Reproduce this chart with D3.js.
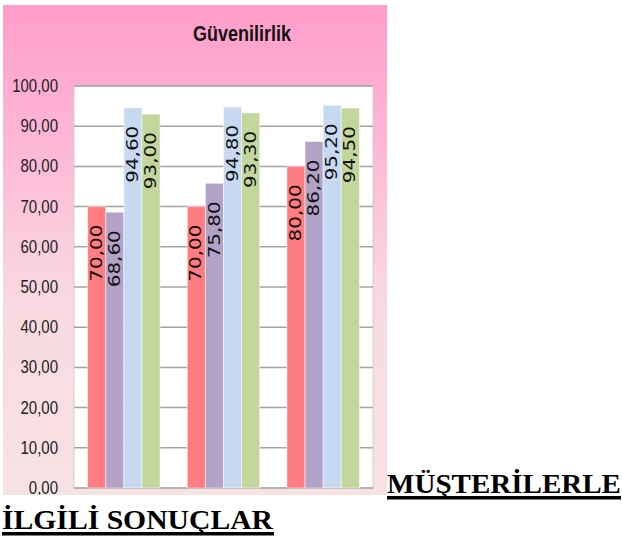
<!DOCTYPE html>
<html>
<head>
<meta charset="utf-8">
<script src="https://cdn.jsdelivr.net/npm/d3@7"></script>
<style>
  body { margin: 0; background: #fff; }
  svg { display: block; }
</style>
</head>
<body>
<svg width="622" height="539"></svg>
<script>
// chart data
const groups = ["A", "B", "C"];
const series = ["s1", "s2", "s3", "s4"];
const colors = ["#ff7c80", "#b3a2c7", "#c6d9f1", "#c3d69b"];
const values = [
  [70.00, 68.60, 94.60, 93.00],
  [70.00, 75.80, 94.80, 93.30],
  [80.00, 86.20, 95.20, 94.50]
];
const yTicks = [0, 10, 20, 30, 40, 50, 60, 70, 80, 90, 100];
const title = "Güvenilirlik";
const caption1 = "MÜŞTERİLERLE";
const caption2 = "İLGİLİ SONUÇLAR";

var svg = d3.select("svg");
var fmt = d => d.toFixed(2).replace(".", ",");

// chart area background
var defs = svg.append("defs");
var grad = defs.append("linearGradient")
    .attr("id", "bg").attr("x1", 0).attr("y1", 0).attr("x2", 0).attr("y2", 1);
grad.append("stop").attr("offset", "0").attr("stop-color", "#ff9dcb");
grad.append("stop").attr("offset", "0.3").attr("stop-color", "#fdb9d6");
grad.append("stop").attr("offset", "0.6").attr("stop-color", "#f9d9e1");
grad.append("stop").attr("offset", "1").attr("stop-color", "#f7e2e2");

defs.append("clipPath").attr("id", "clip")
  .append("rect").attr("x", 3).attr("y", 5).attr("width", 384).attr("height", 490);

var chart = svg.append("g").attr("clip-path", "url(#clip)");

chart.append("rect")
    .attr("x", 3).attr("y", 5).attr("width", 384).attr("height", 490)
    .attr("fill", "url(#bg)");

var pLeft = 74, pRight = 373, pTop = 86, pBottom = 488;

var y = d3.scaleLinear().domain([0, 100]).range([pBottom, pTop]);
var x0 = d3.scaleBand().domain(groups).range([pLeft, pRight]);
var x1 = d3.scaleBand().domain(series).range([0, x0.bandwidth()]).paddingOuter(0.75);

// plot area
chart.append("rect")
    .attr("x", pLeft).attr("y", pTop)
    .attr("width", pRight - pLeft).attr("height", pBottom - pTop)
    .attr("fill", "#fff")
    .attr("stroke", "#d0d0d0");

chart.selectAll(".grid")
  .data(yTicks)
  .join("line")
    .attr("class", "grid")
    .attr("x1", pLeft).attr("x2", pRight)
    .attr("y1", d => y(d)).attr("y2", d => y(d))
    .attr("stroke", "#a3a3a3")
    .attr("stroke-width", 1.5);

// y axis labels
var yAxis = chart.append("g")
    .attr("transform", "translate(" + pLeft + ",0)")
    .call(d3.axisLeft(y).tickValues(yTicks).tickFormat(fmt).tickSize(0).tickPadding(16));
yAxis.select(".domain").remove();
yAxis.selectAll("text")
    .attr("font-family", "Liberation Sans, Arial, sans-serif")
    .attr("font-size", 15)
    .attr("fill", "#222")
    .attr("dy", null)
    .attr("dominant-baseline", "central")
    .attr("transform", "scale(1,1.22)");
yAxis.selectAll(".tick")
    .attr("transform", d => "translate(0," + y(d) + ")");

// bars
var gBars = chart.selectAll(".group")
  .data(values)
  .join("g")
    .attr("class", "group")
    .attr("transform", (d, i) => "translate(" + x0(groups[i]) + ",0)");

gBars.selectAll("rect")
  .data(d => d)
  .join("rect")
    .attr("x", (d, i) => x1(series[i]))
    .attr("y", d => y(d))
    .attr("width", x1.bandwidth())
    .attr("height", d => pBottom - y(d))
    .attr("fill", (d, i) => colors[i])
    .attr("stroke", "rgba(255,255,255,0.5)")
    .attr("stroke-width", 1);

gBars.selectAll(".lbl")
  .data(d => d)
  .join("text")
    .attr("class", "lbl")
    .attr("transform", (d, i) => "translate(" + (x1(series[i]) + x1.bandwidth() / 2) + "," + (y(d) + 18) + ") rotate(-90) scale(1.33,1)")
    .attr("text-anchor", "end")
    .attr("dominant-baseline", "central")
    .attr("font-family", "DejaVu Sans, Verdana, sans-serif")
    .attr("font-size", 15)
    .attr("fill", "#111")
    .text(fmt);

// title
chart.append("text")
    .attr("transform", "translate(242,41) scale(1,1.2)")
    .attr("text-anchor", "middle")
    .attr("font-family", "Liberation Sans, Arial, sans-serif")
    .attr("font-weight", "bold")
    .attr("font-size", 18)
    .attr("fill", "#111")
    .text(title);

// caption below the chart
var cap = svg.append("g")
    .attr("font-family", "Liberation Serif, Times New Roman, serif")
    .attr("font-weight", "bold")
    .attr("font-size", 27)
    .attr("fill", "#000");

cap.append("text")
    .attr("x", 387).attr("y", 493)
    .attr("textLength", 234).attr("lengthAdjust", "spacingAndGlyphs")
    .text(caption1);
cap.append("rect").attr("x", 387).attr("y", 496).attr("width", 234).attr("height", 3.5);

cap.append("text")
    .attr("x", 2).attr("y", 529)
    .attr("textLength", 271).attr("lengthAdjust", "spacingAndGlyphs")
    .text(caption2);
cap.append("rect").attr("x", 2).attr("y", 532).attr("width", 272).attr("height", 3.5);
</script>
</body>
</html>
